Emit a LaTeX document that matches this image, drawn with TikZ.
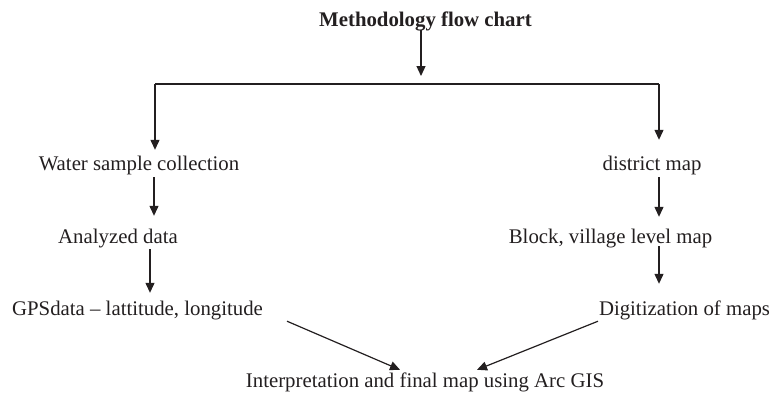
\documentclass[tikz,border=0pt]{standalone}
\usepackage{fontspec}
\setmainfont{Liberation Serif}
\usetikzlibrary{arrows.meta}
\definecolor{ink}{HTML}{231F20}
\tikzset{
  lbl/.style={anchor=base, inner xsep=0pt, inner ysep=2pt, text height=14pt, text depth=5pt,
    font=\fontsize{20.8}{24}\selectfont, text=ink},
  arr/.style={draw=ink, line width=1.2pt, -{Triangle[length=10pt,width=9pt]}},
  ln/.style={draw=ink, line width=1.2pt}
}
\begin{document}
\begin{tikzpicture}[x=1pt,y=-1pt]
\useasboundingbox (0,0) rectangle (773,394);
\node[lbl, font=\fontsize{20.8}{24}\selectfont\bfseries] (title) at (425.5,26) {Methodology flow chart};
\node[lbl] (water) at (139,170) {Water sample collection};
\node[lbl] (ana) at (118,243) {Analyzed data};
\node[lbl] (gps) at (137.5,315) {GPSdata -- lattitude, longitude};
\node[lbl] (dist) at (652,170) {district map};
\node[lbl] (block) at (610.5,243) {Block, village level map};
\node[lbl] (digit) at (684.5,315) {Digitization of maps};
\node[lbl] (interp) at (425,387) {Interpretation and final map using Arc GIS};
\coordinate (hl) at (155,84);
\coordinate (hr) at (659,84);
\coordinate (hm) at (421,84);
\draw[arr, shorten <=-3pt, shorten >=8pt] (title.south -| hm) -- (hm);
\draw[ln] (hl) -- (hr);
\draw[arr, shorten >=4pt] (hl) -- (water.north -| hl);
\draw[arr, shorten >=14pt] (hr) -- (dist.north -| hr);
\draw[arr, shorten >=11pt] ([xshift=15pt]water.south) -- ([xshift=36pt]ana.north);
\draw[arr, shorten <=-1pt, shorten >=6pt] ([xshift=32pt]ana.south) -- ([xshift=12.5pt]gps.north);
\draw[arr, shorten >=10pt] ([xshift=7pt]dist.south) -- ([xshift=48.5pt]block.north);
\draw[arr, shorten <=-4pt, shorten >=15pt] ([xshift=48.5pt]block.south) -- ([xshift=-25.5pt]digit.north);
\draw[arr] ([xshift=149.5pt,yshift=1pt]gps.south) -- ([xshift=-25pt,yshift=1pt]interp.north);
\draw[arr] ([xshift=-86.5pt,yshift=1pt]digit.south) -- ([xshift=52pt,yshift=1pt]interp.north);
\end{tikzpicture}
\end{document}
